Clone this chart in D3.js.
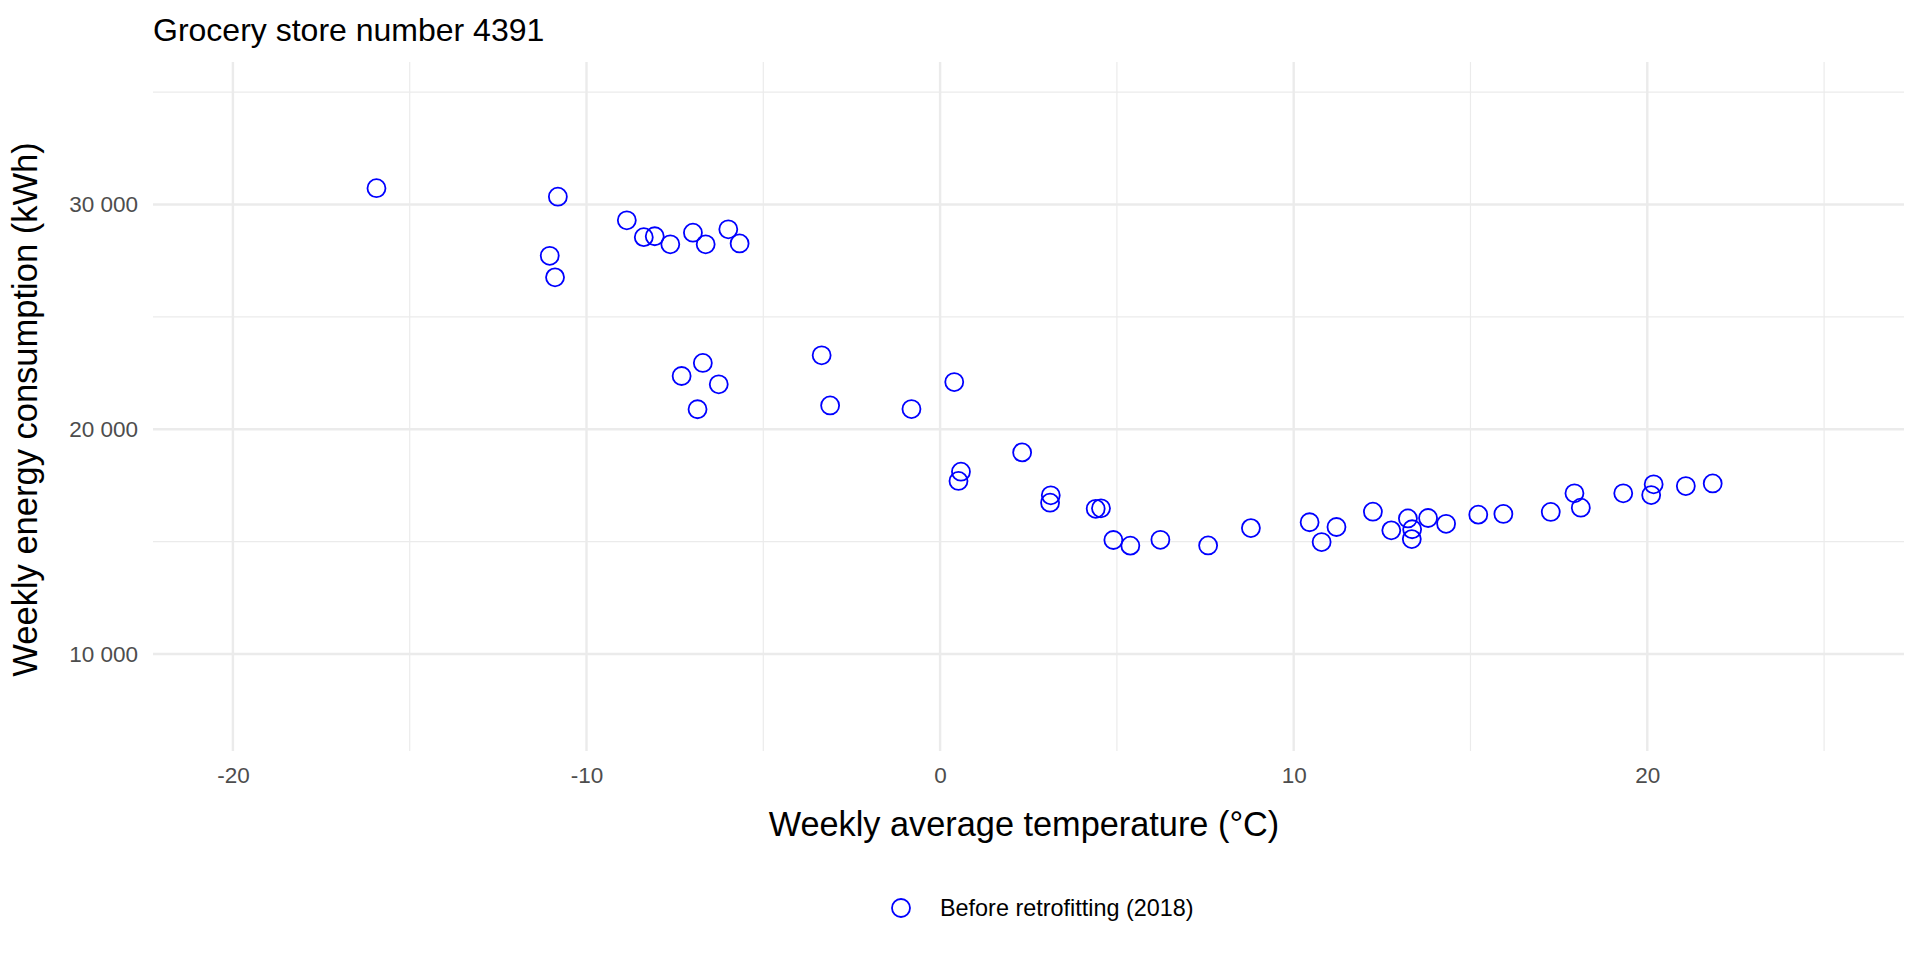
<!DOCTYPE html>
<html>
<head>
<meta charset="utf-8">
<script src="https://cdn.jsdelivr.net/npm/d3@7"></script>
<style>
    body { margin: 0; background: #fff; }
    text { font-family: "Liberation Sans", Arial, sans-serif; }
    .axis text { fill: #4d4d4d; font-size: 22.5px; }
    .axis .domain { display: none; }
</style>
</head>
<body>
<div id="chart"></div>
<script>
// weekly average temperature (°C) and weekly energy use (kWh), store 4391, 2018
var temperature = [-15.94, -10.81, -11.04, -10.89, -8.86, -8.38, -8.07, -7.63, -6.99, -6.63,
    -5.99, -5.67, -7.31, -6.71, -6.26, -6.86, -3.35, -3.11, -0.81, 0.40,
    0.59, 0.52, 2.32, 3.13, 3.11, 4.40, 4.55, 4.90, 5.38, 6.23,
    7.58, 8.79, 10.45, 10.79, 11.21, 12.24, 12.76, 13.23, 13.35, 13.34,
    13.80, 14.31, 15.22, 15.93, 17.27, 17.94, 18.12, 19.32, 20.18, 20.11,
    21.09, 21.85];
var energy = [30730, 30350, 27720, 26760, 29300, 28550, 28590, 28230, 28750, 28230,
    28900, 28270, 22370, 22950, 22000, 20890, 23290, 21060, 20900, 22100,
    18110, 17700, 18970, 17060, 16730, 16460, 16480, 15070, 14820, 15080,
    14830, 15600, 15860, 14980, 15650, 16330, 15500, 16030, 15550, 15110,
    16050, 15790, 16200, 16230, 16320, 17150, 16510, 17150, 17550, 17070,
    17470, 17590];

var xMajor = [-20, -10, 0, 10, 20];
var xMinor = [-15, -5, 5, 15, 25];
var yMajor = [10000, 20000, 30000];
var yMinor = [15000, 25000, 35000];

var titleText = 'Grocery store number 4391';
var xTitle = 'Weekly average temperature (°C)';
var yTitle = 'Weekly energy consumption (kWh)';
var legendLabel = 'Before retrofitting (2018)';

var width = 1920;
var height = 960;
var panelLeft = 153, panelRight = 1904, panelTop = 62, panelBottom = 751;

var points = temperature.map(function (t, i) {
    return {t: t, e: energy[i]};
});

var xScale = d3.scaleLinear()
    .domain([-22.26, 27.26])
    .range([panelLeft, panelRight]);

var yScale = d3.scaleLinear()
    .domain([5680, 36345])
    .range([panelBottom, panelTop]);

var locale = d3.formatLocale({decimal: '.', thousands: ' ', grouping: [3], currency: ['', ''], minus: '-'});
var yFmt = locale.format(',');
var xFmt = locale.format('d');

var svg = d3.select('#chart')
    .append('svg')
    .attr('width', width)
    .attr('height', height);

// grid
var grid = svg.append('g');

var hLines = function (values, w) {
    grid.selectAll(null)
        .data(values)
        .enter()
        .append('line')
        .attr('x1', panelLeft)
        .attr('x2', panelRight)
        .attr('y1', function (d) { return yScale(d); })
        .attr('y2', function (d) { return yScale(d); })
        .attr('stroke', '#ebebeb')
        .attr('stroke-width', w);
};

var vLines = function (values, w) {
    grid.selectAll(null)
        .data(values)
        .enter()
        .append('line')
        .attr('y1', panelTop)
        .attr('y2', panelBottom)
        .attr('x1', function (d) { return xScale(d); })
        .attr('x2', function (d) { return xScale(d); })
        .attr('stroke', '#ebebeb')
        .attr('stroke-width', w);
};

hLines(yMinor, 1.2);
vLines(xMinor, 1.2);
hLines(yMajor, 2.4);
vLines(xMajor, 2.4);

// axes (labels only)
svg.append('g')
    .attr('class', 'axis')
    .attr('transform', 'translate(0, ' + panelBottom + ')')
    .call(d3.axisBottom(xScale).tickValues(xMajor).tickSize(0).tickPadding(16).tickFormat(xFmt))
    .selectAll('line').remove();

svg.append('g')
    .attr('class', 'axis')
    .attr('transform', 'translate(' + panelLeft + ', 0)')
    .call(d3.axisLeft(yScale).tickValues(yMajor).tickSize(0).tickPadding(15).tickFormat(yFmt))
    .selectAll('line').remove();

// points
svg.selectAll('circle.pt')
    .data(points)
    .enter()
    .append('circle')
    .attr('class', 'pt')
    .attr('cx', function (d) { return xScale(d.t); })
    .attr('cy', function (d) { return yScale(d.e); })
    .attr('r', 9)
    .attr('fill', 'none')
    .attr('stroke', '#0000ff')
    .attr('stroke-width', 1.8);

// titles
svg.append('text')
    .attr('x', panelLeft)
    .attr('y', 41)
    .style('font-size', '32px')
    .text(titleText);

svg.append('text')
    .attr('x', 1024)
    .attr('y', 836)
    .style('text-anchor', 'middle')
    .style('font-size', '34.3px')
    .text(xTitle);

svg.append('text')
    .attr('transform', 'rotate(-90)')
    .attr('x', -409.5)
    .attr('y', 37)
    .style('text-anchor', 'middle')
    .style('font-size', '34.5px')
    .text(yTitle);

// legend
var legend = svg.append('g');

legend.append('circle')
    .attr('cx', 901)
    .attr('cy', 908)
    .attr('r', 9)
    .attr('fill', 'none')
    .attr('stroke', '#0000ff')
    .attr('stroke-width', 1.8);

legend.append('text')
    .attr('x', 940)
    .attr('y', 908)
    .attr('dy', '0.35em')
    .style('font-size', '23.4px')
    .text(legendLabel);
</script>
</body>
</html>
